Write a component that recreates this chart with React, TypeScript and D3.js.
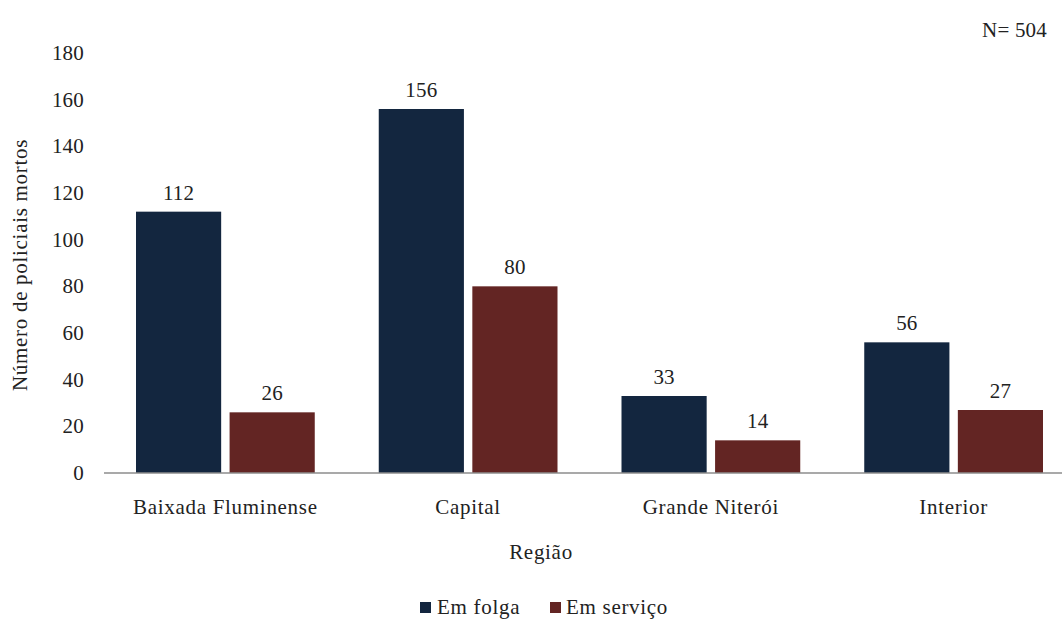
import React from "react";
import * as d3 from "d3";

const categories = ["Baixada Fluminense", "Capital", "Grande Niterói", "Interior"];
const seriesNames = ["Em folga", "Em serviço"];
const emFolga = [112, 156, 33, 56];
const emServico = [26, 80, 14, 27];
const yTicks = [0, 20, 40, 60, 80, 100, 120, 140, 160, 180];
const colors = ["#13263f", "#632523"];

const W = 1062;
const H = 619;
const FONT = "'Liberation Serif', 'Times New Roman', serif";
const FS = 21;

export default function App() {
  const left = 104;
  const right = 1075;
  const top = 53;
  const bottom = 473;
  const x0 = d3.scaleBand<string>().domain(categories).range([left, right]).paddingInner(0).paddingOuter(0);
  const gw = x0.bandwidth();
  const x1 = d3.scaleBand<string>().domain(seriesNames).range([32, gw - 32]).paddingInner(0.09).paddingOuter(0);
  const y = d3.scaleLinear().domain([0, 180]).range([bottom, top]);
  const series = [emFolga, emServico];
  const num = { fontSize: FS, letterSpacing: 0.2, fill: "#222", style: { fontFamily: FONT } };
  const txt = { fontSize: FS, letterSpacing: 0.7, fill: "#222", style: { fontFamily: FONT } };

  return (
    <svg width={W} height={H} style={{ position: "absolute", left: 0, top: 0, background: "#fff", fontFamily: FONT }}>
      <text x={1047} y={37} textAnchor="end" {...num}>N= 504</text>
      {yTicks.map((t) => (
        <text key={t} x={84} y={y(t) + 7} textAnchor="end" {...num}>{t}</text>
      ))}
      <text transform={`translate(27,${(top + bottom) / 2 + 2}) rotate(-90)`} textAnchor="middle" {...txt}>
        Número de policiais mortos
      </text>
      {categories.map((c, i) => (
        <g key={c}>
          {series.map((s, j) => {
            const bx = (x0(c) as number) + (x1(seriesNames[j]) as number);
            const by = y(s[i]);
            return (
              <g key={j}>
                <rect x={bx} y={by} width={x1.bandwidth()} height={bottom - by} fill={colors[j]} />
                <text x={bx + x1.bandwidth() / 2} y={by - 12} textAnchor="middle" {...num}>{s[i]}</text>
              </g>
            );
          })}
          <text x={(x0(c) as number) + gw / 2} y={514} textAnchor="middle" {...txt}>{c}</text>
        </g>
      ))}
      <line x1={left} x2={right} y1={bottom} y2={bottom} stroke="#8c8c8c" strokeWidth={1.3} />
      <text x={541} y={559} textAnchor="middle" {...txt}>Região</text>
      <g>
        <rect x={420} y={602} width={11} height={11} fill={colors[0]} />
        <text x={437} y={614} {...txt}>Em folga</text>
        <rect x={550} y={602} width={11} height={11} fill={colors[1]} />
        <text x={566} y={614} {...txt}>Em serviço</text>
      </g>
    </svg>
  );
}
